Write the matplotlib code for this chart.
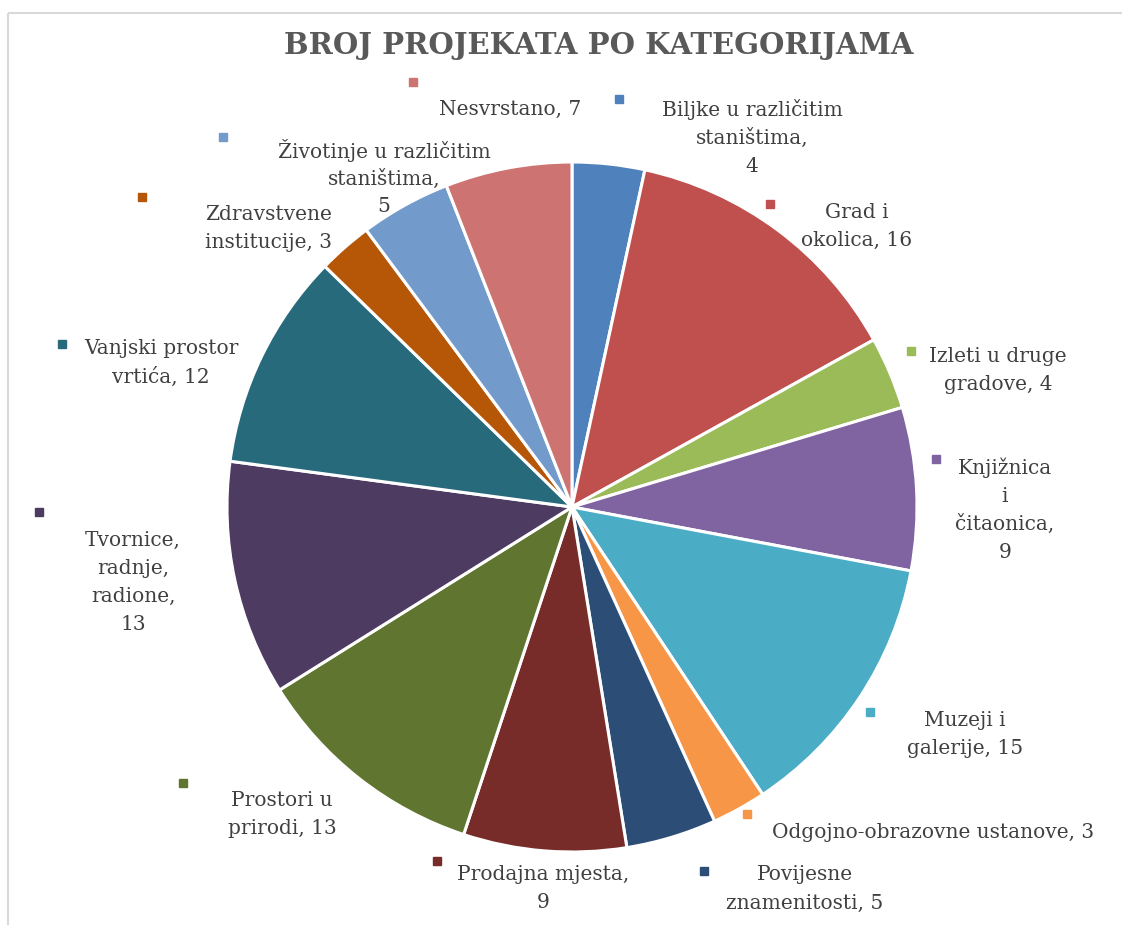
import matplotlib.pyplot as plt

# data
categories = ['Biljke u različitim\nstaništima,', 'Grad i\nokolica,', 'Izleti u druge\ngradove,',
              'Knjižnica\ni\nčitaonica,', 'Muzeji i\ngalerije,', 'Odgojno-obrazovne ustanove,',
              'Povijesne\nznamenitosti,', 'Prodajna mjesta,', 'Prostori u\nprirodi,',
              'Tvornice,\nradnje,\nradione,', 'Vanjski prostor\nvrtića,', 'Zdravstvene\ninstitucije,',
              'Životinje u različitim\nstaništima,', 'Nesvrstano,']
values = [4, 16, 4, 9, 15, 3, 5, 9, 13, 13, 12, 3, 5, 7]
# value goes on same line (" ") or on its own line ("\n")
value_sep = ['\n', ' ', ' ', '\n', ' ', ' ', ' ', '\n', ' ', '\n', ' ', ' ', '\n', ' ']
colors = ['#4F81BD', '#C0504D', '#9BBB59', '#8064A2', '#4BACC6', '#F79646',
          '#2C4D75', '#772C2A', '#5F7530', '#4D3B62', '#276A7C', '#B65708',
          '#729ACA', '#CD7371']

# label layout in pixels from the top left: text centre, key square
text_pos = [(752, 136), (857, 224), (998, 368), (1005, 508), (965, 732), (933, 830),
            (805, 887), (543, 886), (282, 812), (133, 580), (161, 361), (269, 226),
            (384, 177), (510, 107)]
key_pos = [(619, 99), (770, 204), (911, 351), (936, 459), (870, 712), (747, 814),
           (704, 871), (437, 861), (183, 783), (39, 512), (62, 344), (142, 197),
           (223, 137), (413, 82)]
line_h = 28

W, H = 1122, 925
fig = plt.figure(figsize=(W / 100, H / 100), dpi=100)
ax = fig.add_axes([0, 0, 1, 1])

ax.pie(values, colors=colors, startangle=90, counterclock=False,
       center=(572, H - 507), radius=345,
       wedgeprops=dict(edgecolor='white', linewidth=2.2))
ax.set_xlim(0, W)
ax.set_ylim(0, H)
ax.set_aspect('auto')
ax.axis('off')

# chart border (left and top)
ax.plot([8, 8], [0, H - 13], color='#D9D9D9', lw=1.5, solid_capstyle='butt')
ax.plot([8, W], [H - 13, H - 13], color='#D9D9D9', lw=1.5, solid_capstyle='butt')

ax.text(599, H - 45, 'BROJ PROJEKATA PO KATEGORIJAMA', ha='center', va='center',
        fontsize=21, fontweight='bold', family='DejaVu Serif', color='#595959')

for cat, v, sep, c, (tx, ty), (kx, ky) in zip(categories, values, value_sep, colors, text_pos, key_pos):
    lines = (cat + sep + str(v)).split('\n')
    n = len(lines)
    # one text per line so the blocks keep the reference line pitch
    for i, ln in enumerate(lines):
        y = ty + (i - (n - 1) / 2) * line_h
        ax.text(tx, H - y, ln, ha='center', va='center_baseline',
                fontsize=14.5, family='DejaVu Serif', color='#404040')
    ax.plot(kx, H - ky, 's', color=c, markersize=6)

fig.savefig('out.png', dpi=100)
